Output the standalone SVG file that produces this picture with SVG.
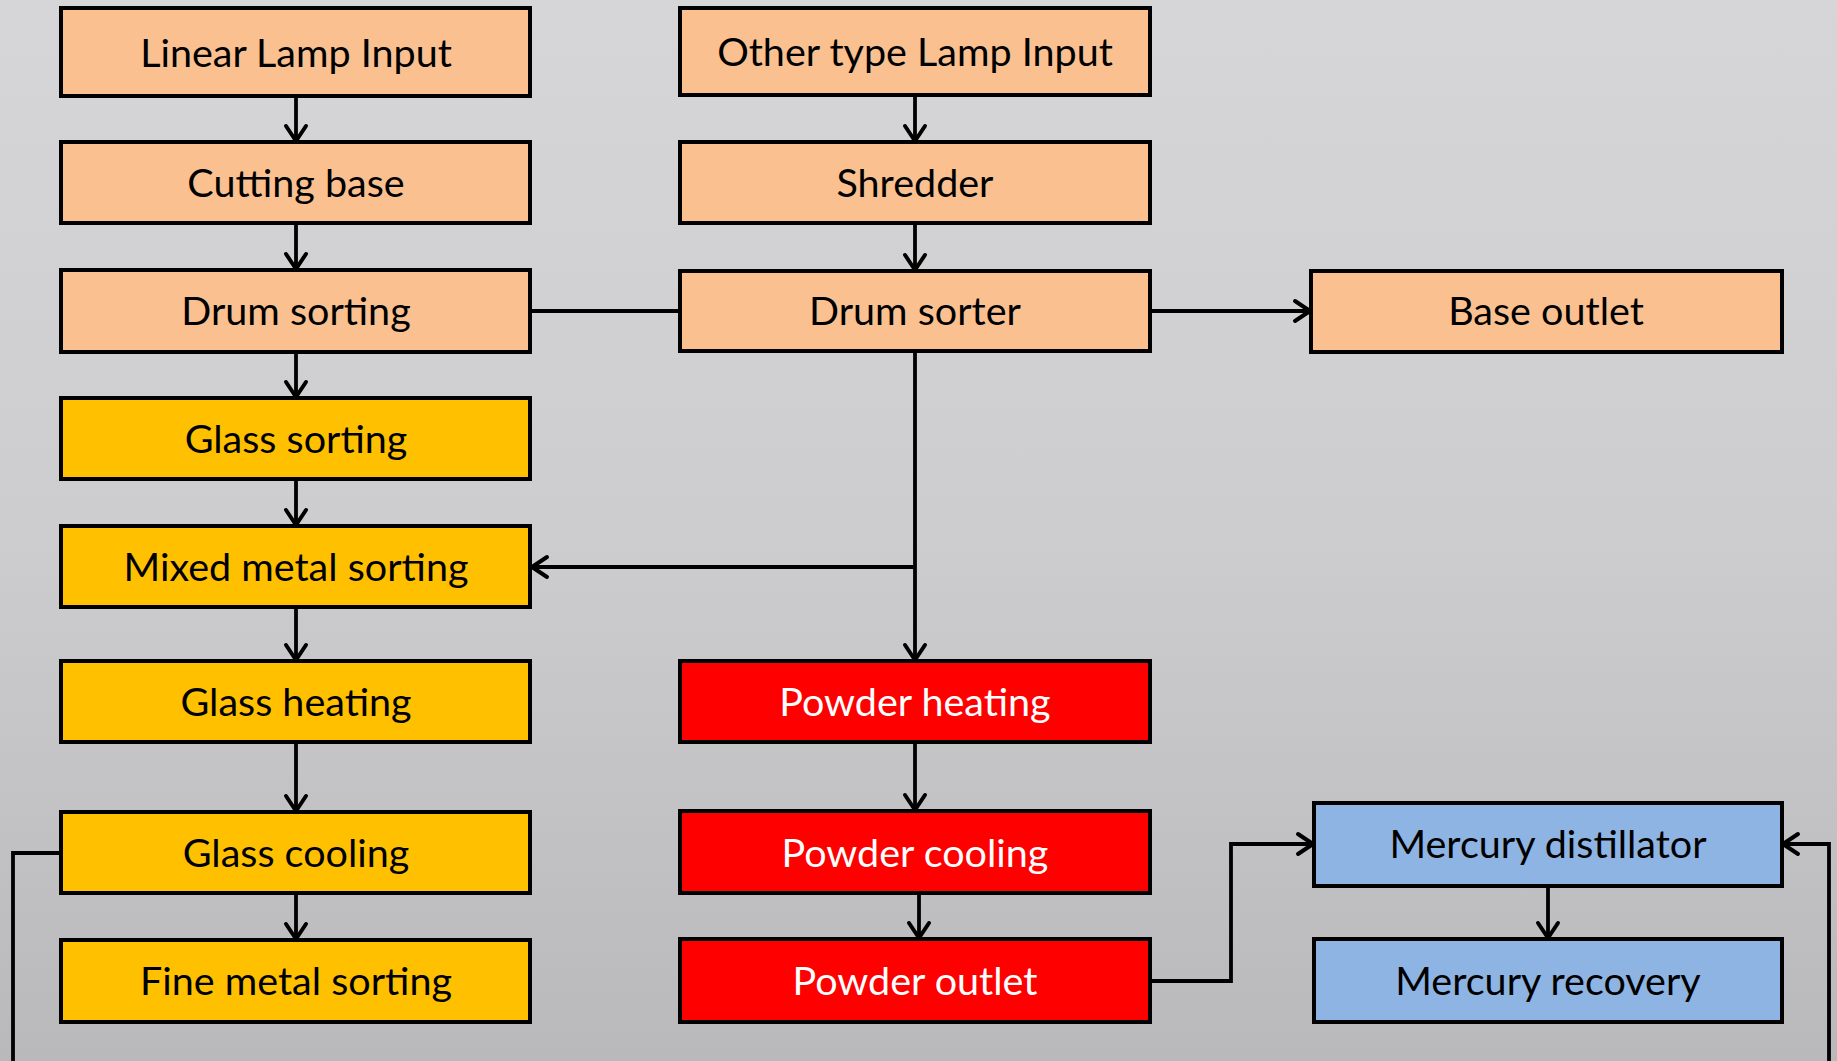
<svg xmlns="http://www.w3.org/2000/svg" width="1837" height="1061" viewBox="0 0 1837 1061">
  <defs>
    <linearGradient id="bg" x1="0" y1="0" x2="0" y2="1">
      <stop offset="0" stop-color="#d6d6d8"/>
      <stop offset="0.5" stop-color="#cdcdcf"/>
      <stop offset="1" stop-color="#b9b9bb"/>
    </linearGradient>
    <marker id="arr" markerUnits="userSpaceOnUse" markerWidth="34" markerHeight="34" viewBox="-22 -17 34 34" refX="0" refY="0" orient="auto">
      <path d="M-16,-10 L-1,0 L-16,10" fill="none" stroke="#000" stroke-width="4" stroke-linecap="round" stroke-linejoin="round"/>
    </marker>
    <style>
      .box rect { stroke: #000; stroke-width: 4; }
      .peach rect { fill: #fac090; }
      .gold rect { fill: #ffc000; }
      .red rect { fill: #ff0000; }
      .blue rect { fill: #8eb4e3; }
      .box text { font-family: Lato, "Liberation Sans", sans-serif; font-size: 39.5px; text-anchor: middle; fill: #000; }
      .red text { fill: #fff; }
      .conn path { fill: none; stroke: #000; stroke-width: 3.8; }
      .conn .a { marker-end: url(#arr); }
    </style>
  </defs>
  <rect x="0" y="0" width="1837" height="1061" fill="url(#bg)"/>

  <g id="connectors" class="conn">
    <path class="a" d="M296,96 V142"/>
    <path class="a" d="M296,223 V270"/>
    <path class="a" d="M296,352 V398"/>
    <path class="a" d="M296,479 V526"/>
    <path class="a" d="M296,607 V661"/>
    <path class="a" d="M296,742 V812"/>
    <path class="a" d="M296,893 V940"/>
    <path d="M530,311 H680"/>
    <path class="a" d="M915,95 V142"/>
    <path class="a" d="M915,223 V271"/>
    <path class="a" d="M1150,311 H1311"/>
    <path class="a" d="M915,351 V661"/>
    <path class="a" d="M915,567 H531"/>
    <path class="a" d="M915,742 V811"/>
    <path class="a" d="M919,893 V939"/>
    <path class="a" d="M1150,981 H1231 V844 H1314"/>
    <path class="a" d="M1548,886 V939"/>
    <path d="M61,853 H13 V1061"/>
    <path class="a" d="M1829,1061 V844 H1782"/>
  </g>

  <g id="linear-lamp-input" class="box peach"><rect x="61" y="8" width="469" height="88"/><text x="296" y="67">Linear Lamp Input</text></g>
  <g id="cutting-base" class="box peach"><rect x="61" y="142" width="469" height="81"/><text x="296" y="197">Cutting base</text></g>
  <g id="drum-sorting" class="box peach"><rect x="61" y="270" width="469" height="82"/><text x="296" y="325">Drum sorting</text></g>
  <g id="glass-sorting" class="box gold"><rect x="61" y="398" width="469" height="81"/><text x="296" y="453">Glass sorting</text></g>
  <g id="mixed-metal-sorting" class="box gold"><rect x="61" y="526" width="469" height="81"/><text x="296" y="581">Mixed metal sorting</text></g>
  <g id="glass-heating" class="box gold"><rect x="61" y="661" width="469" height="81"/><text x="296" y="716">Glass heating</text></g>
  <g id="glass-cooling" class="box gold"><rect x="61" y="812" width="469" height="81"/><text x="296" y="867">Glass cooling</text></g>
  <g id="fine-metal-sorting" class="box gold"><rect x="61" y="940" width="469" height="82"/><text x="296" y="995">Fine metal sorting</text></g>

  <g id="other-type-lamp-input" class="box peach"><rect x="680" y="8" width="470" height="87"/><text x="915" y="66">Other type Lamp Input</text></g>
  <g id="shredder" class="box peach"><rect x="680" y="142" width="470" height="81"/><text x="915" y="197">Shredder</text></g>
  <g id="drum-sorter" class="box peach"><rect x="680" y="271" width="470" height="80"/><text x="915" y="325">Drum sorter</text></g>
  <g id="powder-heating" class="box red"><rect x="680" y="661" width="470" height="81"/><text x="915" y="716">Powder heating</text></g>
  <g id="powder-cooling" class="box red"><rect x="680" y="811" width="470" height="82"/><text x="915" y="867">Powder cooling</text></g>
  <g id="powder-outlet" class="box red"><rect x="680" y="939" width="470" height="83"/><text x="915" y="995">Powder outlet</text></g>

  <g id="base-outlet" class="box peach"><rect x="1311" y="271" width="471" height="81"/><text x="1546" y="325">Base outlet</text></g>
  <g id="mercury-distillator" class="box blue"><rect x="1314" y="803" width="468" height="83"/><text x="1548" y="858">Mercury distillator</text></g>
  <g id="mercury-recovery" class="box blue"><rect x="1314" y="939" width="468" height="83"/><text x="1548" y="995">Mercury recovery</text></g>
</svg>
